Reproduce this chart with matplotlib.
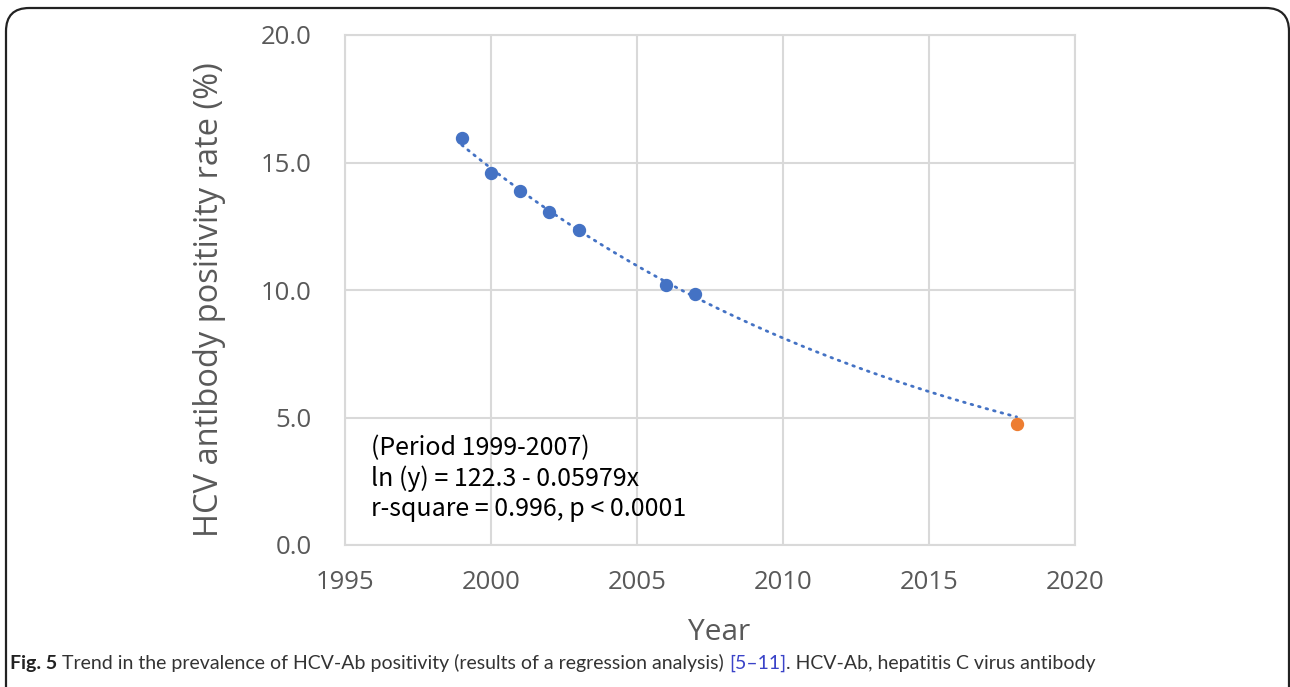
import numpy as np
import matplotlib
matplotlib.use("Agg")
import matplotlib.pyplot as plt
from matplotlib.patches import FancyBboxPatch

# Data
years = [1999, 2000, 2001, 2002, 2003, 2006, 2007]
rates = [15.95, 14.58, 13.88, 13.06, 12.35, 10.2, 9.84]
year_2018 = [2018]
rate_2018 = [4.75]

x_ticks = [1995, 2000, 2005, 2010, 2015, 2020]
y_ticks = [0.0, 5.0, 10.0, 15.0, 20.0]

annot_lines = ["(Period 1999-2007)",
               "ln (y) = 122.3 - 0.05979x",
               "r-square = 0.996, p < 0.0001"]

BLUE = "#4472C4"
ORANGE = "#ED7D31"
GRID = "#D9D9D9"
TXT = "#595959"

fig = plt.figure(figsize=(12.9, 6.87), dpi=100)
W, H = 1290, 687

# Outer rounded frame
frame = FancyBboxPatch((6 / W, -0.05), 1283 / W, 1 - 8 / H + 0.05,
                       boxstyle="round,pad=0,rounding_size=0.018",
                       transform=fig.transFigure, fill=False,
                       edgecolor="#222222", linewidth=1.6,
                       mutation_aspect=W / H)
fig.patches.append(frame)

ax = fig.add_axes([345 / W, 142 / H, 730 / W, 510 / H])

# Log-linear regression over the 1999-2007 period, extrapolated to 2018
coef = np.polyfit(years, np.log(rates), 1)
xt = np.linspace(years[0], year_2018[0], 200)
ax.plot(xt, np.exp(np.polyval(coef, xt)), color=BLUE, linestyle=(0, (0.6, 2.2)),
        linewidth=2.0, dash_capstyle="round", zorder=3)

ax.plot(years, rates, "o", color=BLUE, markersize=8.6, zorder=4)
ax.plot(year_2018, rate_2018, "o", color=ORANGE, markersize=8.6, zorder=4)

ax.set_xlim(1995, 2020)
ax.set_ylim(0, 20)
ax.set_xticks(x_ticks)
ax.set_yticks(y_ticks)
ax.set_yticklabels(["%.1f" % v for v in y_ticks])
ax.tick_params(length=0, labelsize=18.5, labelcolor=TXT)
ax.tick_params(axis="y", pad=24)
ax.tick_params(axis="x", pad=18)
for lab in ax.get_xticklabels() + ax.get_yticklabels():
    lab.set_family("Open Sans")
ax.grid(True, color=GRID, linewidth=1.5)
ax.set_axisbelow(True)
for sp in ax.spines.values():
    sp.set_color(GRID)
    sp.set_linewidth(1.5)

ax.text(0.036, 0.215, "\n".join(annot_lines), transform=ax.transAxes,
        fontsize=18, family=["Noto Sans CJK JP", "DejaVu Sans"], color="black",
        va="top", ha="left", linespacing=1.2)

fig.text(210 / W, 1 - 300 / H, "HCV antibody positivity rate (%)", rotation=90,
         ha="center", va="center", fontsize=23.5, color=TXT, family="Open Sans")
fig.text(719 / W, 1 - 633 / H, "Year", ha="center", va="center",
         fontsize=21.5, color=TXT, family="Open Sans")

# Caption, drawn piece by piece
pieces = [("Fig. 5", "bold", "#222222"),
          (" Trend in the prevalence of HCV-Ab positivity (results of a regression analysis) ", "normal", "#333333"),
          ("[5\u201311]", "normal", "#3A43C8"),
          (". HCV-Ab, hepatitis C virus antibody", "normal", "#333333")]
fig.canvas.draw()
renderer = fig.canvas.get_renderer()
xpos = 10 / W
for txt, wt, col in pieces:
    t = fig.text(xpos, 1 - 669 / H, txt, fontsize=14.0, weight=wt, color=col,
                 family="Lato", ha="left", va="baseline")
    bb = t.get_window_extent(renderer=renderer)
    xpos += bb.width / W

fig.savefig("out.png", dpi=100)
